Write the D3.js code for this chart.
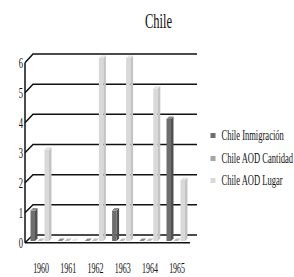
<!DOCTYPE html>
<html><head><meta charset="utf-8">
<script src="https://cdn.jsdelivr.net/npm/d3@7/dist/d3.min.js"></script>
<style>body{margin:0;background:#fff}svg{display:block}</style>
</head><body><svg id="c" width="294" height="277"></svg>
<script>
const categories = ["1960","1961","1962","1963","1964","1965"];
const seriesNames = ["Chile Inmigración","Chile AOD Cantidad","Chile AOD Lugar"];
const inmigracion = [1,0,0,1,0,4];
const aodCantidad = [0,0,0,0,0,0];
const aodLugar = [3,0,6,6,5,2];
const yTicks = [0,1,2,3,4,5,6];

const values = [inmigracion, aodCantidad, aodLugar];
const colors = ["#6e6e6e","#a6a6a6","#d9d9d9"];
const sides = ["#505050","#8a8a8a","#c4c4c4"];
const tops = ["#8a8a8a","#bcbcbc","#e6e6e6"];

const svg = d3.select("#c");
const fontFam = "Liberation Serif";
const sx = 0.57;

const yFront = d3.scaleLinear().domain([0,6]).range([242.7,62.7]);
const yBack = d3.scaleLinear().domain([0,6]).range([235,54]);
const xFrontL = 25, xBackL = 33, xBackR = 197, xFrontR = 190;

const g = svg.append("g").attr("stroke","#111").attr("stroke-width",1.5).attr("fill","none");
yTicks.forEach(t=>{
  g.append("path").attr("d",`M${xFrontL},${yFront(t)}L${xBackL},${yBack(t)}L${xBackR},${yBack(t)}`);
});
g.append("line").attr("x1",xFrontL).attr("x2",xFrontL).attr("y1",yFront(6)).attr("y2",yFront(0));
g.append("line").attr("x1",xFrontL).attr("x2",xFrontR).attr("y1",yFront(0)).attr("y2",yFront(0));

const x0 = d3.scaleBand().domain(categories).range([27,190.2]);
const x1 = d3.scaleBand().domain(seriesNames).range([3.5,24.5]);
const yBar = d3.scaleLinear().domain([0,6]).range([241,58]);
const d = 2.5, bw = x1.bandwidth() - d;
const bars = svg.append("g");
seriesNames.forEach((s,si)=>{
  categories.forEach((c,ci)=>{
    const v = values[si][ci];
    const x = x0(c) + x1(s), yt = yBar(v), yb = yBar(0);
    const gg = bars.append("g");
    gg.append("rect").attr("x",x).attr("y",yt).attr("width",bw).attr("height",yb-yt).attr("fill",colors[si]);
    gg.append("path").attr("d",`M${x+bw},${yt}L${x+bw+d},${yt-d}L${x+bw+d},${yb-d}L${x+bw},${yb}Z`).attr("fill",sides[si]);
    gg.append("path").attr("d",`M${x},${yt}L${x+d},${yt-d}L${x+bw+d},${yt-d}L${x+bw},${yt}Z`).attr("fill",tops[si]);
  });
});

yTicks.forEach(t=>{
  svg.append("text").attr("transform",`translate(23,${yFront(t)+5}) scale(${sx},1)`)
    .attr("text-anchor","end").attr("font-family",fontFam).attr("font-size",15).attr("fill","#111").text(t);
});
categories.forEach(c=>{
  svg.append("text").attr("transform",`translate(${x0(c)+x0.bandwidth()/2+0.5},273) scale(${sx},1)`)
    .attr("text-anchor","middle").attr("font-family",fontFam).attr("font-size",14).attr("fill","#111").text(c);
});
svg.append("text").attr("transform",`translate(158.5,28) scale(${sx},1)`).attr("text-anchor","middle")
  .attr("font-family",fontFam).attr("font-size",22).attr("fill","#111").text("Chile");

const legY = [135.5,158.5,180.5];
seriesNames.forEach((s,i)=>{
  svg.append("rect").attr("x",210.5).attr("y",legY[i]-2.5).attr("width",5).attr("height",5).attr("fill",colors[i]);
  svg.append("text").attr("transform",`translate(221.5,${legY[i]+4.5}) scale(${sx},1)`)
    .attr("font-family",fontFam).attr("font-size",15).attr("fill","#111").text(s);
});
</script></body></html>
